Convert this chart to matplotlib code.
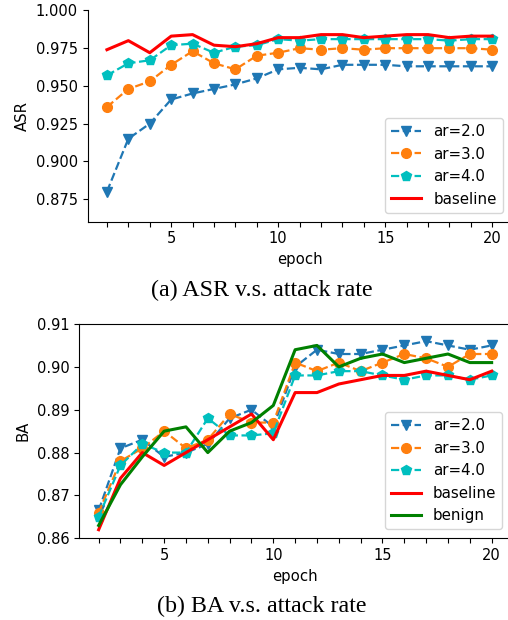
import matplotlib
matplotlib.use("Agg")
import matplotlib.pyplot as plt

# Data
epochs = list(range(2, 21))

asr_ar2 = [0.880, 0.915, 0.925, 0.941, 0.945, 0.948, 0.951, 0.955, 0.961, 0.962,
           0.961, 0.964, 0.964, 0.964, 0.963, 0.963, 0.963, 0.963, 0.963]
asr_ar3 = [0.936, 0.948, 0.953, 0.964, 0.973, 0.965, 0.961, 0.970, 0.972, 0.975,
           0.974, 0.975, 0.974, 0.975, 0.975, 0.975, 0.975, 0.975, 0.974]
asr_ar4 = [0.957, 0.965, 0.967, 0.977, 0.978, 0.972, 0.976, 0.977, 0.981, 0.980,
           0.981, 0.981, 0.981, 0.981, 0.981, 0.981, 0.980, 0.981, 0.981]
asr_base = [0.974, 0.980, 0.972, 0.983, 0.984, 0.977, 0.976, 0.978, 0.982, 0.982,
            0.984, 0.984, 0.982, 0.983, 0.984, 0.984, 0.982, 0.983, 0.983]

ba_ar2 = [0.8665, 0.881, 0.883, 0.879, 0.880, 0.882, 0.888, 0.890, 0.886, 0.900,
          0.904, 0.903, 0.903, 0.904, 0.905, 0.906, 0.905, 0.904, 0.905]
ba_ar3 = [0.866, 0.878, 0.881, 0.885, 0.881, 0.883, 0.889, 0.887, 0.887, 0.901,
          0.899, 0.901, 0.899, 0.901, 0.903, 0.902, 0.900, 0.903, 0.903]
ba_ar4 = [0.865, 0.877, 0.882, 0.880, 0.880, 0.888, 0.884, 0.884, 0.8845, 0.898,
          0.898, 0.899, 0.899, 0.898, 0.897, 0.898, 0.898, 0.897, 0.898]
ba_base = [0.862, 0.874, 0.880, 0.877, 0.880, 0.883, 0.886, 0.889, 0.883, 0.894,
           0.894, 0.896, 0.897, 0.898, 0.898, 0.899, 0.898, 0.897, 0.899]
ba_benign = [0.863, 0.8725, 0.879, 0.885, 0.886, 0.880, 0.885, 0.887, 0.891, 0.904,
             0.905, 0.900, 0.902, 0.903, 0.901, 0.902, 0.903, 0.901, 0.901]

plt.rcParams["font.family"] = "DejaVu Sans"
plt.rcParams["font.size"] = 10.5

fig = plt.figure(figsize=(5.08, 6.2), dpi=100)
ax1 = fig.add_axes([0.1726, 0.6424, 0.8344, 0.3407])
ax2 = fig.add_axes([0.1555, 0.1318, 0.851, 0.3456])


def draw(ax, series, ylabel):
    ax.plot(epochs, series[0], "--v", color="#1f77b4", lw=1.6, ms=7, label="ar=2.0")
    ax.plot(epochs, series[1], "--o", color="#ff7f0e", lw=1.6, ms=7, label="ar=3.0")
    ax.plot(epochs, series[2], "--p", color="c", lw=1.6, ms=7, label="ar=4.0")
    ax.plot(epochs, series[3], "-", color="r", lw=2.2, label="baseline")
    if len(series) > 4:
        ax.plot(epochs, series[4], "-", color="g", lw=2.2, label="benign")
    ax.set_xticks(epochs)
    ax.set_xticklabels([str(e) if e % 5 == 0 else "" for e in epochs])
    ax.set_xlabel("epoch", fontsize=10.7)
    ax.set_ylabel(ylabel, fontsize=10.7)
    ax.legend(loc="lower right", borderaxespad=0.6, fontsize=10.8)


draw(ax1, [asr_ar2, asr_ar3, asr_ar4, asr_base], "ASR")
ax1.set_ylim(0.86, 1.0)
ax1.set_yticks([0.875, 0.9, 0.925, 0.95, 0.975, 1.0])
ax1.spines["top"].set_visible(False)

draw(ax2, [ba_ar2, ba_ar3, ba_ar4, ba_base, ba_benign], "BA")
ax2.set_ylim(0.86, 0.91)
ax2.set_yticks([0.86, 0.87, 0.88, 0.89, 0.90, 0.91])

fig.text(0.515, 1 - 290 / 620, "(a) ASR v.s. attack rate", ha="center", va="center",
         family="Liberation Serif", fontsize=17.3)
fig.text(0.515, 1 - 606 / 620, "(b) BA v.s. attack rate", ha="center", va="center",
         family="Liberation Serif", fontsize=17.3)

fig.savefig("out.png", dpi=100, facecolor="white")
